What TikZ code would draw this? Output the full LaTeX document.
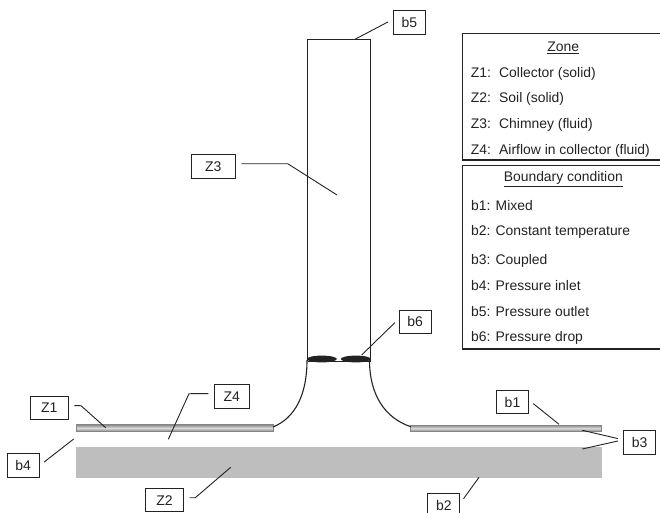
\documentclass[tikz,border=0pt]{standalone}
\usepackage{fontspec}
\setmainfont{Liberation Sans}
\usepackage{xcolor}
\usetikzlibrary{positioning, calc}
\definecolor{soil}{HTML}{BEBEBE}
\definecolor{plate}{HTML}{858585}
\definecolor{ink}{HTML}{222222}

\begin{document}
\begin{tikzpicture}[
    x=1pt, y=-1pt,
    tag/.style={draw=ink, line width=1pt, minimum height=23.5pt, inner sep=0pt,
                font=\fontsize{14}{16}\selectfont, text=ink},
    leader/.style={draw=ink, line width=0.9pt, shorten <=5.5pt},
    wall/.style={draw=ink, line width=1.3pt},
    legend/.style={draw=ink, line width=1.1pt},
    entry/.style={anchor=west, inner sep=0pt, text height=11pt, text depth=1pt,
                  font=\fontsize{13.9}{16}\selectfont, text=ink},
    title/.style={inner sep=0pt, font=\fontsize{13.9}{16}\selectfont, text=ink},
    collector/.style={top color=plate, bottom color=plate, middle color=white!70!plate, draw=plate, line width=0.6pt}
  ]
    \useasboundingbox (0,0) rectangle (660,513);

    % Soil and collector plates
    \fill[soil] (76,447.3) rectangle (601.5,477.7);
    \shade[collector] (76,424.5) rectangle (273,431.5);
    \shade[collector] (410.7,425) rectangle (601,431.5);

    % Chimney
    \draw[wall] (307.5,360.5) -- (307.5,39.5) -- (370.5,39.5) -- (370.5,360.5);
    \draw[draw=ink, line width=0.6pt] (307.5,361) -- (370.5,361);
    \fill[ink] (321.8,359) ellipse [x radius=15, y radius=3.4];
    \fill[ink] (355.8,359) ellipse [x radius=15, y radius=3.4];
    \draw[wall, line width=1.1pt] (307,360) .. controls (307,395) and (295,418) .. (273,427);
    \draw[wall, line width=1.1pt] (369.5,360) .. controls (369.5,395) and (385,418) .. (410.7,426.7);

    % Labels
    \node[tag, minimum width=38pt] (Z1) at (49.3,408) {Z1};
    \node[tag, minimum width=35pt] (Z4) at (231.8,396.5) {Z4};
    \node[tag, minimum width=38pt] (Z2) at (164.5,500.2) {Z2};
    \node[tag, minimum width=44pt] (Z3) at (213.3,166.5) {Z3};
    \node[tag, minimum width=32pt] (b1) at (512.5,402.2) {b1};
    \node[tag, minimum width=32pt] (b2) at (443.8,505.5) {b2};
    \node[tag, minimum width=32pt] (b3) at (639.7,442.7) {b3};
    \node[tag, minimum width=32pt] (b4) at (23.2,465.5) {b4};
    \node[tag, minimum width=32pt] (b5) at (409.3,22.3) {b5};
    \node[tag, minimum width=32pt] (b6) at (415.2,321.8) {b6};

    % Leader ends
    \coordinate (Z1bend) at (81,405.7);
    \coordinate (Z1end) at (105.7,427.7);
    \coordinate (Z4bend) at (189,393.7);
    \coordinate (Z4end) at (168.3,439.3);
    \coordinate (Z2bend) at (195.3,497.7);
    \coordinate (Z2end) at (230.7,467.3);
    \coordinate (Z3bend) at (287.7,163.7);
    \coordinate (Z3end) at (337,195);
    \coordinate (b1end) at (559,424.3);
    \coordinate (b2end) at (479,477.3);
    \coordinate (b3upper) at (582.3,430.3);
    \coordinate (b3lower) at (582.3,449);
    \coordinate (b4end) at (73.7,439);
    \coordinate (b5end) at (355,39.3);
    \coordinate (b6end) at (361.7,355);

    \draw[leader] (Z1.7) -- (Z1bend) -- (Z1end);
    \draw[leader] (Z4.171) -- (Z4bend) -- (Z4end);
    \draw[leader] (Z2.7) -- (Z2bend) -- (Z2end);
    \draw[leader] (Z3.7) -- (Z3bend) -- (Z3end);
    \draw[leader] (b1.7) -- (b1end);
    \draw[leader] (b2.8) -- (b2end);
    \draw[leader] (b3.170) -- (b3upper);
    \draw[leader] (b3.170) -- (b3lower);
    \draw[leader] (b4.east) -- (b4end);
    \draw[leader] (b5.170) -- (b5end);
    \draw[leader] (b6.170) -- (b6end);

    % Zone table
    \draw[legend] (665,33.3) -- (462.7,33.3) -- (462.7,160) -- (665,160);
    \node[title] (zonetitle) at (563.3,47.7) {\underline{Zone}};
    \foreach \i/\yy/\name in {1/72.3/Collector (solid), 2/97.7/Soil (solid),
                              3/123.3/Chimney (fluid), 4/149.3/Airflow in collector (fluid)} {
      \node[entry] (zone\i) at (470.7,\yy) {Z\i:};
      \node[entry] (zonetext\i) at (499,\yy) {\name};
    }

    % Boundary table
    \draw[legend] (665,165.7) -- (462.7,165.7) -- (462.7,349) -- (665,349);
    \node[title] (boundtitle) at (563.3,179.3) {\underline{Boundary condition}};
    \foreach \i/\yy/\name in {1/205/Mixed, 2/230.7/Constant temperature, 3/259.3/Coupled,
                              4/285.3/Pressure inlet, 5/311/Pressure outlet, 6/336.7/Pressure drop} {
      \node[entry] (bound\i) at (471,\yy) {b\i: \name};
    }
  \end{tikzpicture}
\end{document}
